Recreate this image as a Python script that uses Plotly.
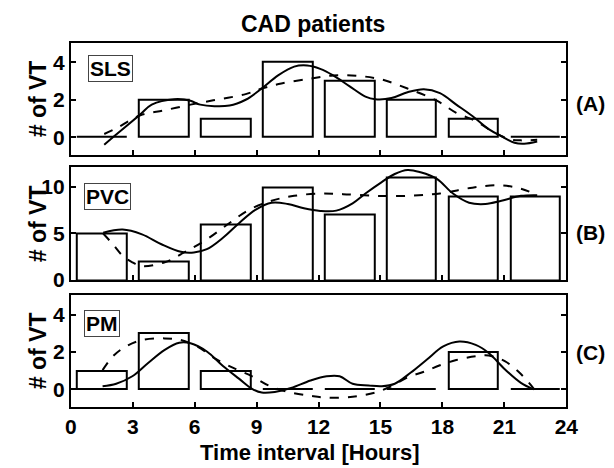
import plotly.graph_objects as go

# ---------------- data ----------------
bin_centers = [1.5, 4.5, 7.5, 10.5, 13.5, 16.5, 19.5, 22.5]
x_ticks = [0, 3, 6, 9, 12, 15, 18, 21, 24]
x_tick_labels = ["0", "3", "6", "9", "12", "15", "18", "21", "24"]

sls_counts = [0, 2, 1, 4, 3, 2, 1, 0]
pvc_counts = [5, 2, 6, 10, 7, 11, 9, 9]
pm_counts = [1, 3, 1, 0, 0, 0, 2, 0]

# solid (fitted) curves
sls_fit_x = [1.62, 2.04, 3.37, 3.92, 5.02, 5.8, 6.27, 7.69, 8.47, 9.25, 10.04, 10.82, 11.45, 12.08,
             12.71, 13.49, 14.27, 14.75, 15.53, 16.31, 17.1, 17.88, 18.67, 19.45, 20.24, 20.86,
             21.49, 21.96, 22.59]
sls_fit_y = [-0.4, 0.0, 1.22, 1.74, 2.03, 1.95, 1.74, 1.69, 2.0, 2.6, 3.3, 3.77, 3.83, 3.65,
             3.3, 2.73, 2.17, 2.03, 2.09, 2.4, 2.56, 2.35, 1.74, 1.13, 0.43, 0.05,
             -0.3, -0.35, -0.23]
# dashed (cosinor) curves
sls_cos_x = [1.62, 2.2, 3.37, 4.55, 5.8, 6.9, 8.47, 9.25, 10.2, 11.6, 12.71, 13.96, 15.06, 16.31,
             17.73, 18.67, 19.6, 20.24, 21.18, 21.8, 22.59]
sls_cos_y = [0.17, 0.47, 1.17, 1.44, 1.74, 1.97, 2.3, 2.6, 2.87, 3.13, 3.3, 3.27, 3.08, 2.6,
             1.95, 1.3, 0.87, 0.43, -0.09, -0.17, -0.14]

pvc_fit_x = [1.57, 2.51, 3.45, 4.39, 5.33, 5.96, 6.59, 7.37, 8.16, 8.94, 9.73, 10.51, 11.29, 12.08,
             12.86, 13.65, 14.27, 15.06, 15.69, 16.31, 16.94, 17.73, 18.51, 19.29, 20.08, 20.86,
             21.8, 22.59]
pvc_fit_y = [5.07, 5.42, 4.9, 3.84, 3.03, 2.96, 3.31, 4.54, 6.13, 7.54, 8.31, 8.17, 7.71, 7.43,
             7.46, 8.24, 9.3, 10.53, 11.4, 11.83, 11.58, 10.88, 9.3, 8.31, 8.17, 8.52,
             9.05, 9.12]
pvc_cos_x = [1.57, 2.04, 2.51, 2.98, 3.45, 4.55, 5.49, 6.59, 7.69, 8.63, 9.73, 10.82, 12.08, 13.18,
             14.75, 16.31, 17.88, 19.45, 20.71, 21.8, 22.59]
pvc_cos_y = [5.0, 3.84, 2.6, 1.9, 1.48, 1.9, 2.96, 4.37, 6.13, 7.54, 8.52, 9.05, 9.3, 9.23,
             9.05, 9.05, 9.3, 9.93, 10.18, 9.82, 9.12]

pm_fit_x = [1.54, 2.2, 2.98, 3.76, 4.55, 5.25, 5.8, 6.59, 7.37, 8.16, 8.78, 9.25, 9.88, 10.67,
            11.61, 12.39, 13.02, 13.65, 14.43, 15.06, 15.69, 16.47, 17.25, 18.04, 18.82, 19.61,
            20.24, 21.02, 21.8, 22.43]
pm_fit_y = [0.16, 0.3, 0.7, 1.43, 2.12, 2.5, 2.47, 2.03, 1.25, 0.56, 0.03, -0.17, -0.14, 0.07,
            0.47, 0.7, 0.7, 0.3, 0.21, 0.17, 0.3, 0.9, 1.6, 2.3, 2.56, 2.38,
            1.95, 1.08, 0.35, 0.0]
pm_cos_x = [1.54, 2.04, 2.67, 3.45, 4.55, 5.33, 6.12, 7.06, 8.0, 8.78, 9.57, 10.51, 11.61, 12.39,
            13.65, 14.75, 15.53, 16.31, 17.1, 17.88, 18.67, 19.61, 20.24, 21.02, 21.8, 22.43]
pm_cos_y = [1.03, 1.77, 2.3, 2.64, 2.73, 2.64, 2.3, 1.6, 1.08, 0.7, 0.21, -0.14, -0.35, -0.45,
            -0.4, -0.17, 0.17, 0.64, 0.94, 1.29, 1.57, 1.77, 1.81, 1.51, 0.82, 0.03]

panel_names = ["SLS", "PVC", "PM"]
panel_tags = ["(A)", "(B)", "(C)"]
y_tick_values = [[0, 2, 4], [0, 5, 10], [0, 2, 4]]
y_ranges = [[-0.96, 5.04], [-0.05, 12.1], [-0.93, 5.05]]

# ---------------- layout geometry (pixels) ----------------
W, H = 614, 468
FONT = "Liberation Sans"
x_dom = [58.5 / W, 569 / W]
panel_px = [(35.7, 150.7), (163.3, 279.0), (294.0, 408.3)]   # (top, bottom)

def ydom(top, bot):
    return [1 - bot / H, 1 - top / H]

fig = go.Figure()

counts = [sls_counts, pvc_counts, pm_counts]
fits = [(sls_fit_x, sls_fit_y), (pvc_fit_x, pvc_fit_y), (pm_fit_x, pm_fit_y)]
coss = [(sls_cos_x, sls_cos_y), (pvc_cos_x, pvc_cos_y), (pm_cos_x, pm_cos_y)]

for i in range(3):
    xa = "x" if i == 0 else f"x{i+1}"
    ya = "y" if i == 0 else f"y{i+1}"
    fig.add_trace(go.Bar(x=bin_centers, y=counts[i], width=2.4,
                         marker=dict(color="white", line=dict(color="black", width=2)),
                         xaxis=xa, yaxis=ya, showlegend=False))
    fig.add_trace(go.Scatter(x=coss[i][0], y=coss[i][1], mode="lines",
                             line=dict(color="black", width=2, dash="dash", shape="spline"),
                             xaxis=xa, yaxis=ya, showlegend=False))
    fig.add_trace(go.Scatter(x=fits[i][0], y=fits[i][1], mode="lines",
                             line=dict(color="black", width=2, shape="spline"),
                             xaxis=xa, yaxis=ya, showlegend=False))

layout = dict(width=W, height=H, margin=dict(l=0, r=0, t=0, b=0),
              paper_bgcolor="white", plot_bgcolor="white", bargap=0,
              font=dict(family=FONT, color="black"))

annotations = []
for i in range(3):
    top, bot = panel_px[i]
    xkey = "xaxis" if i == 0 else f"xaxis{i+1}"
    ykey = "yaxis" if i == 0 else f"yaxis{i+1}"
    ya = "y" if i == 0 else f"y{i+1}"
    layout[xkey] = dict(domain=x_dom, range=[0, 24], tickmode="array", tickvals=x_ticks,
                        ticktext=x_tick_labels, showticklabels=(i == 2),
                        ticks="inside", ticklen=5, tickwidth=2, tickcolor="black",
                        showline=True, linewidth=2, linecolor="black", mirror=True,
                        showgrid=False, zeroline=False, fixedrange=True,
                        tickfont=dict(family=FONT, size=21, color="black", weight="bold"),
                        anchor=ya)
    layout[ykey] = dict(domain=ydom(top, bot), range=y_ranges[i], tickmode="array",
                        tickvals=y_tick_values[i], ticks="inside", ticklen=5, tickwidth=2,
                        tickcolor="black", showline=True, linewidth=2, linecolor="black",
                        mirror="ticks", showgrid=False, zeroline=False,
                        tickfont=dict(family=FONT, size=21, color="black", weight="bold"),
                        anchor="x" if i == 0 else f"x{i+1}")
    cy = (top + bot) / 2
    annotations.append(dict(text="# of VT", x=25 / W, y=1 - cy / H, xref="paper", yref="paper",
                            textangle=-90, showarrow=False, xanchor="center", yanchor="middle",
                            font=dict(family=FONT, size=23, color="black", weight="bold")))

box_pos = [(99.5, 62), (96, 193), (91, 323)]
tag_y = [98, 230, 353]
for i in range(3):
    bx, by = box_pos[i]
    annotations.append(dict(text=panel_names[i], x=bx / W, y=1 - by / H, xref="paper", yref="paper",
                            showarrow=False, xanchor="center", yanchor="middle",
                            bordercolor="#444", borderwidth=1, borderpad=1, bgcolor="white",
                            font=dict(family=FONT, size=21, color="black", weight="bold")))
    annotations.append(dict(text=panel_tags[i], x=594 / W, y=1 - tag_y[i] / H, xref="paper", yref="paper",
                            showarrow=False, xanchor="center", yanchor="middle",
                            font=dict(family=FONT, size=21, color="black", weight="bold")))

annotations.append(dict(text="CAD patients", x=308 / W, y=1 - 16 / H, xref="paper", yref="paper",
                        showarrow=False, xanchor="center", yanchor="middle",
                        font=dict(family=FONT, size=23, color="black", weight="bold")))
annotations.append(dict(text="Time interval [Hours]", x=305 / W, y=1 - 455 / H, xref="paper", yref="paper",
                        showarrow=False, xanchor="center", yanchor="middle",
                        font=dict(family=FONT, size=22, color="black", weight="bold")))
layout["annotations"] = annotations
fig.update_layout(**layout)

fig.write_html("out.html")
